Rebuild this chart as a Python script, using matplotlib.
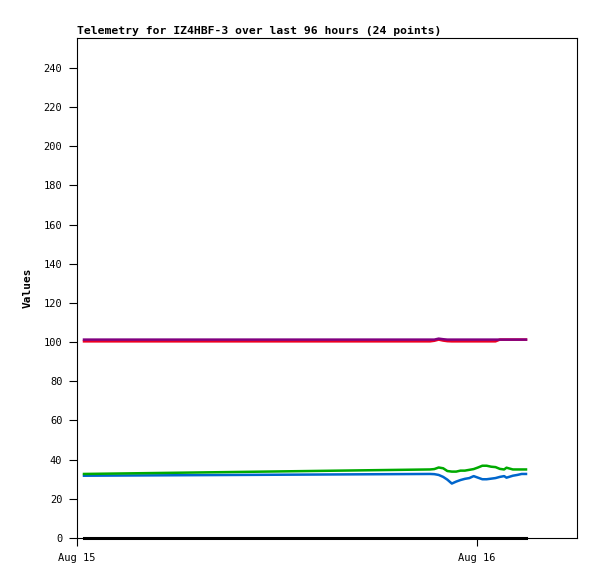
"""
Telemetry plot for IZ4HBF-3
"""

import datetime as dt
import matplotlib
matplotlib.use("Agg")
import matplotlib.pyplot as plt
import matplotlib.dates as mdates

# ── data (hours after Aug 15 00:00) ─────────────────────────
HOURS = [0.42, 21.18, 21.44, 21.70, 21.97, 22.22, 22.49, 22.75, 23.01, 23.27,
         23.54, 23.80, 24.06, 24.32, 24.58, 24.85, 25.11, 25.37, 25.63, 25.77,
         26.15, 26.42, 26.68, 26.94]

CH_BLACK = [0.0] * 24
CH_BLUE = [31.8, 32.7, 32.6, 32.2, 31.2, 29.8, 27.8, 28.8, 29.6, 30.2,
           30.6, 31.6, 30.8, 30.0, 30.0, 30.3, 30.6, 31.2, 31.6, 30.8,
           31.8, 32.2, 32.7, 32.7]
CH_GREEN = [32.7, 35.0, 35.2, 36.0, 35.6, 34.2, 33.9, 33.9, 34.4, 34.4,
            34.8, 35.2, 36.0, 36.9, 36.9, 36.4, 36.2, 35.3, 35.0, 35.9,
            35.0, 35.0, 35.0, 35.0]
CH_RED = [100.4, 100.4, 100.7, 101.3, 100.8, 100.5, 100.4, 100.4, 100.4, 100.4,
          100.4, 100.4, 100.4, 100.4, 100.4, 100.4, 100.4, 101.3, 101.3, 101.3,
          101.3, 101.3, 101.3, 101.3]
CH_PURPLE = [101.3, 101.3, 101.3, 101.8, 101.5, 101.3, 101.3, 101.3, 101.3, 101.3,
             101.3, 101.3, 101.3, 101.3, 101.3, 101.3, 101.3, 101.3, 101.3, 101.3,
             101.3, 101.3, 101.3, 101.3]

Y_TICKS = list(range(0, 241, 20))
START = dt.datetime(2023, 8, 15)

FONT = "DejaVu Sans Mono"

times = [START + dt.timedelta(hours=h) for h in HOURS]

fig = plt.figure(figsize=(5.97, 5.79), dpi=100)
ax = fig.add_axes([77 / 597, 1 - 538 / 579, 500 / 597, 500 / 579])

# black channel sits on the axis line, let it spill over
ax.plot(times, CH_BLACK, color="#000000", linewidth=2.2, clip_on=False, zorder=3)
for vals, color in [(CH_BLUE, "#0066cc"),
                    (CH_GREEN, "#00aa00"),
                    (CH_RED, "#ee0022"),
                    (CH_PURPLE, "#800080")]:
    ax.plot(times, vals, color=color, linewidth=1.8)

ax.set_xlim(START, START + dt.timedelta(hours=30))
ax.set_ylim(0, 255.3)
ax.set_yticks(Y_TICKS)
ax.xaxis.set_major_locator(mdates.DayLocator())
ax.xaxis.set_major_formatter(mdates.DateFormatter("%b %d"))

ax.tick_params(direction="out", length=5.5, width=0.8, colors="black",
               labelsize=7.5, pad=5)
for lab in ax.get_xticklabels() + ax.get_yticklabels():
    lab.set_family(FONT)

for sp in ax.spines.values():
    sp.set_linewidth(0.8)
    sp.set_color("black")

ax.set_title("Telemetry for IZ4HBF-3 over last 96 hours (24 points)",
             loc="left", fontsize=8.2, fontweight="bold", family=FONT, pad=3)
ax.set_ylabel("Values", fontsize=8, fontweight="bold", family=FONT, labelpad=8)

fig.savefig("out.png", dpi=100)
